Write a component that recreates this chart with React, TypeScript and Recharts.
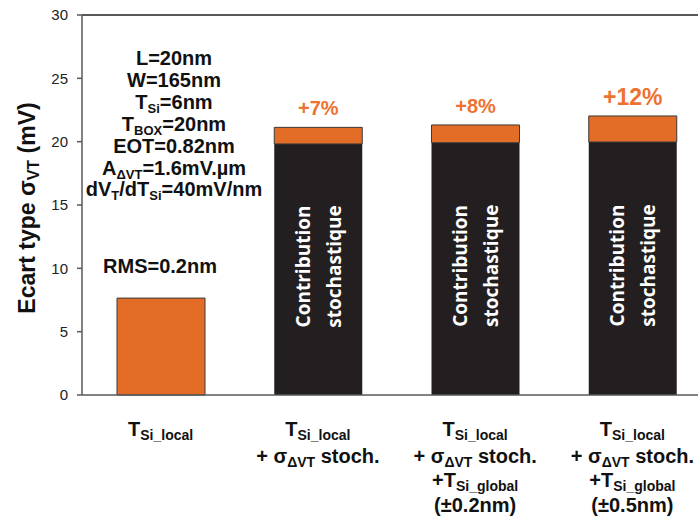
import React from "react";
import { BarChart, Bar, XAxis, YAxis, ReferenceLine, LabelList, Customized } from "recharts";

// [text, isSubscript]
type Seg = [string, boolean];

const categories = ["TSi_local", "stoch", "global02", "global05"];
const stochValues = [0, 19.82, 19.92, 19.97];
const tsiValues = [7.65, 1.31, 1.4, 2.06];
const gainLabels = ["", "+7%", "+8%", "+12%"];
const yTicks = [0, 5, 10, 15, 20, 25, 30];

const xLabelLines: Seg[][][] = [
  [[["T", false], ["Si_local", true]]],
  [
    [["T", false], ["Si_local", true]],
    [["+ σ", false], ["ΔVT", true], [" stoch.", false]],
  ],
  [
    [["T", false], ["Si_local", true]],
    [["+ σ", false], ["ΔVT", true], [" stoch.", false]],
    [["+T", false], ["Si_global", true]],
    [["(±0.2nm)", false]],
  ],
  [
    [["T", false], ["Si_local", true]],
    [["+ σ", false], ["ΔVT", true], [" stoch.", false]],
    [["+T", false], ["Si_global", true]],
    [["(±0.5nm)", false]],
  ],
];

const paramLines: Seg[][] = [
  [["L=20nm", false]],
  [["W=165nm", false]],
  [["T", false], ["Si", true], ["=6nm", false]],
  [["T", false], ["BOX", true], ["=20nm", false]],
  [["EOT=0.82nm", false]],
  [["A", false], ["ΔVT", true], ["=1.6mV.µm", false]],
  [["dV", false], ["T", true], ["/dT", false], ["Si", true], ["=40mV/nm", false]],
];
const rmsLabel = "RMS=0.2nm";

const data = categories.map((c, i) => ({
  name: c,
  stoch: stochValues[i],
  tsi: tsiValues[i],
  gain: gainLabels[i],
}));

const ORANGE = "#E36C26";
const DARK = "#231F20";
const AXIS = "#595959";
const FONT = "'Liberation Sans', Arial, sans-serif";
const X_LINE_OFFSETS = [41, 68, 92, 117];

const renderSegs = (segs: Seg[], mainSize: number, subSize: number, shift: number) => {
  let prevSub = false;
  return segs.map(([t, sub], k) => {
    let dy = 0;
    if (sub && !prevSub) dy = shift;
    if (!sub && prevSub) dy = -shift;
    prevSub = sub;
    return (
      <tspan key={k} dy={dy} fontSize={sub ? subSize : mainSize}>
        {t}
      </tspan>
    );
  });
};

const XTick = (props: any) => {
  const { x, y, payload } = props;
  const lines = xLabelLines[payload.index] || [];
  return (
    <g>
      {lines.map((segs, i) => (
        <text
          key={i}
          x={x}
          y={y + X_LINE_OFFSETS[i]}
          textAnchor="middle"
          fontFamily={FONT}
          fontWeight="bold"
          fill="#111"
        >
          {renderSegs(segs, 20, 14, 4)}
        </text>
      ))}
    </g>
  );
};

const StochLabel = (props: any) => {
  const { x, y, width, height, value } = props;
  if (!value) return null;
  const cx = x + width / 2;
  const cy = y + height / 2 - 3;
  return (
    <g transform={`translate(${cx},${cy}) rotate(-90)`}>
      {["Contribution", "stochastique"].map((t, i) => (
        <text
          key={t}
          x={0}
          y={i === 0 ? -15.5 : 15.5}
          textAnchor="middle"
          dominantBaseline="central"
          fontFamily="'Open Sans', sans-serif"
          fontWeight="bold"
          fontSize={19}
          fill="#fff"
        >
          {t}
        </text>
      ))}
    </g>
  );
};

const GainLabel = (props: any) => {
  const { x, y, width, value } = props;
  if (!value) return null;
  return (
    <text
      x={x + width / 2}
      y={y - 19}
      textAnchor="middle"
      dominantBaseline="central"
      fontFamily={FONT}
      fontWeight="bold"
      fontSize={value === "+12%" ? 23 : 20}
      fill="#EE7330"
    >
      {value}
    </text>
  );
};

const Annotations = () => (
  <g fontFamily={FONT} fontWeight="bold" fill="#111">
    <g transform="translate(27,208) rotate(-90)">
      <text x={0} y={0} textAnchor="middle" dominantBaseline="central" fontSize={23}>
        {renderSegs([["Ecart type σ", false], ["VT", true], [" (mV)", false]], 23, 16, 6)}
      </text>
    </g>
    {paramLines.map((segs, i) => (
      <text key={i} x={174} y={65 + i * 21.9} textAnchor="middle" fontSize={20}>
        {renderSegs(segs, 20, 13, 4)}
      </text>
    ))}
    <text x={160} y={273} textAnchor="middle" fontSize={20}>
      {rmsLabel}
    </text>
  </g>
);

export default function App() {
  return (
    <div style={{ position: "absolute", left: 0, top: 0, width: 698, height: 519, overflow: "hidden", background: "#fff" }}>
      <BarChart
        width={740}
        height={519}
        data={data}
        margin={{ top: 15, right: 29, left: 2, bottom: 14 }}
        barSize={88}
      >
        <XAxis
          dataKey="name"
          height={110}
          axisLine={{ stroke: AXIS, strokeWidth: 1.5 }}
          tickLine={false}
          tickSize={0}
          tickMargin={0}
          tick={<XTick />}
          interval={0}
        />
        <YAxis
          width={80}
          domain={[0, 30]}
          ticks={yTicks}
          interval={0}
          axisLine={{ stroke: AXIS, strokeWidth: 1.5 }}
          tickLine={{ stroke: AXIS, strokeWidth: 1.5 }}
          tickSize={5}
          tickMargin={9}
          tick={{ fill: "#222", fontSize: 15, fontFamily: FONT }}
        />
        <ReferenceLine y={30} stroke={AXIS} strokeWidth={2} />
        <Bar dataKey="stoch" stackId="a" fill={DARK} isAnimationActive={false}>
          <LabelList dataKey="stoch" content={<StochLabel />} />
        </Bar>
        <Bar dataKey="tsi" stackId="a" fill={ORANGE} stroke="#3a3a3a" strokeWidth={1} isAnimationActive={false}>
          <LabelList dataKey="gain" content={<GainLabel />} />
        </Bar>
        <Customized component={<Annotations />} />
      </BarChart>
    </div>
  );
}
